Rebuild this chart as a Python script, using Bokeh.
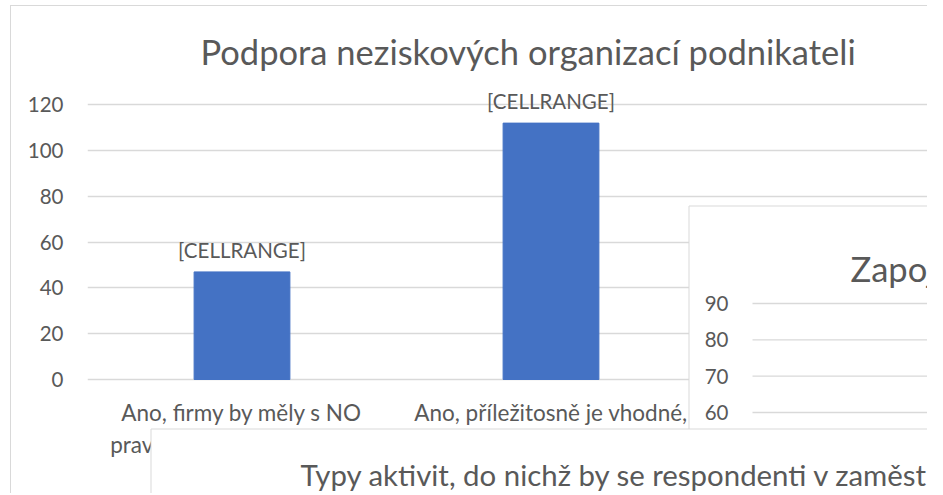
from bokeh.plotting import figure
from bokeh.models import Range1d, FixedTicker
from bokeh.embed import file_html
from bokeh.resources import INLINE
from bokeh.core.properties import value

# ---------------- data ----------------
title_main = "Podpora neziskových organizací podnikateli"
categories = [
    "Ano, firmy by měly s NO\npravidelně spolupracovat a",
    "Ano, příležitosně je vhodné,\naby firmy NO podpořily",
]
values = [47, 112]
data_labels = ["[CELLRANGE]", "[CELLRANGE]"]
y_ticks = [0, 20, 40, 60, 80, 100, 120]

title_2 = "Zapojení firem do aktivit neziskových organizací"
y_ticks_2 = [60, 70, 80, 90]

title_3 = "Typy aktivit, do nichž by se respondenti v zaměstnání zapojili"

# ---------------- style ----------------
FONT = "Lato"
TXT = "#595959"
GRID = "#d9d9d9"
BAR = "#4472C4"
PANE_LINE = "#d9d9d9"

cat_x = [i + 0.5 for i in range(len(categories))]

# layout (page pixels): frame spans x 87..928, y 80..494; value 0 at y 379,
# 120 at y 104.3
PX_PER_UNIT = (379 - 104.3) / 120
y_lo = -(494 - 379) / PX_PER_UNIT
y_hi = (379 - 80) / PX_PER_UNIT

# scale of the overlapping second chart: 90 at y 303, 60 at y 412
def v2(page_y):
    return 90 - (page_y - 303) * 30 / 109

p = figure(width=917, height=488, output_backend="svg", toolbar_location=None,
           x_range=Range1d(0, 841 / 309), y_range=Range1d(y_lo, y_hi),
           min_border_left=76, min_border_right=0, min_border_top=74,
           min_border_bottom=0, x_axis_location=None, title=title_main)
p.outline_line_color = None
p.margin = (5, 0, 0, 10)
p.styles = {"border-left": "1px solid #d9d9d9", "border-top": "1px solid #d9d9d9"}
p.extra_x_ranges = {"px": Range1d(87, 928)}
p.extra_y_ranges = {"py": Range1d(494, 80), "z": Range1d(v2(494), v2(80))}

p.title.text_font = FONT
p.title.text_font_size = "34.5px"
p.title.text_font_style = "normal"
p.title.text_color = TXT
p.title.align = "left"
p.title.offset = 113
p.title.standoff = 17

# main chart
p.vbar(x=cat_x, top=values, width=0.31, fill_color=BAR, line_color=BAR)
p.text(x=cat_x, y=values, text=data_labels, text_align="center",
       text_baseline="alphabetic", y_offset=-22, text_font=value(FONT),
       text_font_size="20.5px", text_color=TXT)
p.text(x=cat_x, y=[0] * len(cat_x), text=categories, text_align="center",
       text_baseline="top", y_offset=19, text_line_height=1.2,
       text_font=value(FONT), text_font_size="22.5px", text_color=TXT)

yax = p.yaxis[0]
yax.ticker = FixedTicker(ticks=y_ticks)
yax.axis_line_color = None
yax.major_tick_line_color = None
yax.minor_tick_line_color = None
yax.major_tick_out = 0
yax.major_label_standoff = 24
yax.major_label_text_font = FONT
yax.major_label_text_font_size = "20.5px"
yax.major_label_text_color = TXT

p.xgrid.visible = False
p.ygrid.ticker = FixedTicker(ticks=y_ticks)
p.ygrid.grid_line_color = GRID
p.ygrid.grid_line_width = 1.3

# second chart pane (overlapping)
p.quad(left=[688.5], right=[940], top=[205.5], bottom=[520],
       x_range_name="px", y_range_name="py",
       fill_color="white", line_color=PANE_LINE, line_width=1)
n2 = len(y_ticks_2)
p.segment(x0=[752] * n2, x1=[940] * n2, y0=y_ticks_2, y1=y_ticks_2,
          x_range_name="px", y_range_name="z", line_color=GRID, line_width=1.3)
p.text(x=[728] * n2, y=y_ticks_2, text=[str(t) for t in y_ticks_2],
       x_range_name="px", y_range_name="z", text_align="right",
       text_baseline="middle", text_font=value(FONT), text_font_size="20.5px",
       text_color=TXT)
p.text(x=[850], y=[268], text=[title_2], x_range_name="px", y_range_name="py",
       text_align="left", text_baseline="alphabetic", text_font=value(FONT),
       text_font_size="34.5px", text_color=TXT)

# third chart pane (overlapping)
p.quad(left=[150.5], right=[940], top=[428.5], bottom=[520],
       x_range_name="px", y_range_name="py",
       fill_color="white", line_color=PANE_LINE, line_width=1)
p.text(x=[300], y=[474], text=[title_3], x_range_name="px", y_range_name="py",
       text_align="left", text_baseline="alphabetic", text_font=value(FONT),
       text_font_size="29.4px", text_color=TXT)

open("out.html", "w").write(file_html(p, INLINE))
